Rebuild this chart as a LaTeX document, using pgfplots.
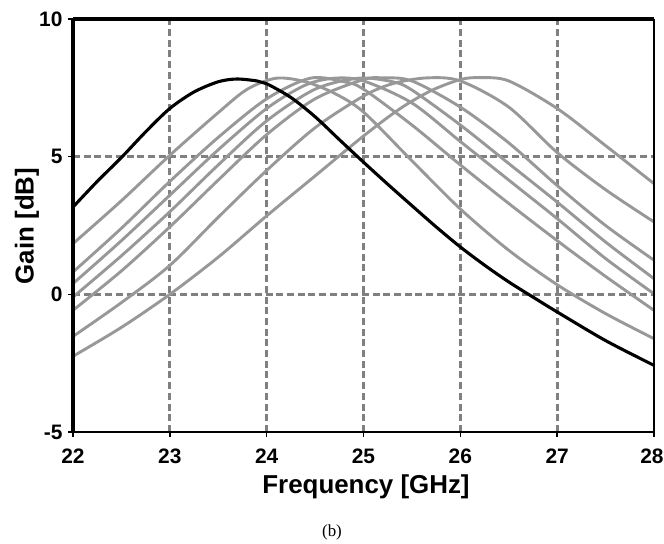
\documentclass[border=0pt]{standalone}
\usepackage{pgfplots}
\pgfplotsset{compat=1.18}
\usepackage{fontspec}
\setmainfont{Liberation Sans}
\newfontfamily\capfont{Liberation Serif}
\definecolor{gridgray}{RGB}{128,128,128}
\definecolor{curvegray}{RGB}{152,152,152}
\begin{document}
\begin{tikzpicture}
\path[use as bounding box] (0bp,0bp) rectangle (664bp,544bp);
\begin{axis}[
  at={(73bp,112bp)}, anchor=south west,
  width=581bp, height=413bp, scale only axis,
  xmin=22, xmax=28, ymin=-5, ymax=10,
  xtick={22,23,24,25,26,27,28}, ytick={-5,0,5,10},
  xticklabels={22,23,24,25,26,27,{\hspace*{-4bp}28}},
  yticklabels={-5,0,5,10},
  xtick pos=bottom, ytick pos=left,
  tick align=outside, major tick length=5bp,
  tick style={black, line width=1.6bp},
  tick label style={font=\fontsize{21}{23}\selectfont\bfseries},
  xticklabel style={yshift=-8bp},
  yticklabel style={xshift=-2bp},
  axis line style={draw=none},
  clip=false,
]
% grid
\draw[gridgray, line width=3.1bp, dash pattern=on 7bp off 3.7bp]
  (axis cs:23,-5) -- (axis cs:23,10)
  (axis cs:24,-5) -- (axis cs:24,10)
  (axis cs:25,-5) -- (axis cs:25,10)
  (axis cs:26,-5) -- (axis cs:26,10)
  (axis cs:27,-5) -- (axis cs:27,10)
  (axis cs:22,0) -- (axis cs:28,0)
  (axis cs:22,5) -- (axis cs:28,5);
% gray curves
\addplot[curvegray, line width=2.9bp, smooth] coordinates {
(22,1.84) (22.5,3.4) (23,5.05) (23.5,6.6) (23.8,7.45) (24.1,7.85) (24.4,7.72) (24.7,7.3) (25,6.62) (25.5,4.85) (26,3.1) (26.5,1.6) (27,0.35) (27.5,-0.7) (28,-1.61)};
\addplot[curvegray, line width=2.9bp, smooth] coordinates {
(22,0.81) (22.5,2.4) (23,4.1) (23.5,5.7) (24,7.1) (24.45,7.85) (24.8,7.72) (25,7.45) (25.5,6.15) (26,4.7) (26.5,3.3) (27,1.95) (27.5,0.65) (28,-0.58)};
\addplot[curvegray, line width=2.9bp, smooth] coordinates {
(22,0.39) (22.5,1.95) (23,3.6) (23.5,5.25) (24,6.75) (24.4,7.6) (24.7,7.85) (25,7.75) (25.5,6.95) (26,5.55) (26.5,4.15) (27,2.75) (27.5,1.3) (28,0.02)};
\addplot[curvegray, line width=2.9bp, smooth] coordinates {
(22,-0.1) (22.5,1.4) (23,3.0) (23.5,4.7) (24,6.3) (24.5,7.45) (24.95,7.85) (25.3,7.72) (25.5,7.42) (26,6.15) (26.5,4.75) (27,3.35) (27.5,1.9) (28,0.57)};
\addplot[curvegray, line width=2.9bp, smooth] coordinates {
(22,-0.58) (22.5,0.85) (23,2.45) (23.5,4.15) (24,5.8) (24.5,7.1) (25,7.8) (25.2,7.86) (25.5,7.75) (26,6.8) (26.5,5.5) (27,3.95) (27.5,2.5) (28,1.24)};
\addplot[curvegray, line width=2.9bp, smooth] coordinates {
(22,-1.53) (22.5,-0.3) (23,1.05) (23.5,2.8) (24,4.5) (24.5,6.05) (25,7.2) (25.3,7.65) (25.65,7.86) (26,7.75) (26.5,6.8) (27,5.15) (27.5,3.8) (28,2.63)};
\addplot[curvegray, line width=2.9bp, smooth] coordinates {
(22,-2.25) (22.5,-1.2) (23,0.0) (23.5,1.35) (24,2.85) (24.5,4.3) (25,5.75) (25.38,6.75) (25.7,7.4) (26,7.8) (26.2,7.87) (26.5,7.75) (27,6.75) (27.5,5.4) (28,4.02)};
% black curve
\addplot[black, line width=3.1bp, smooth] coordinates {
(22,3.17) (22.25,4.1) (22.5,4.97) (22.75,5.9) (23,6.75) (23.25,7.35) (23.5,7.72) (23.69,7.82) (23.9,7.75) (24,7.65) (24.25,7.15) (24.5,6.45) (24.75,5.62) (25,4.8) (25.25,4.0) (25.5,3.22) (25.75,2.45) (26,1.72) (26.25,1.06) (26.5,0.45) (26.75,-0.1) (27,-0.64) (27.5,-1.68) (28,-2.58)};
% frame
\draw[black, line width=3.2bp] (rel axis cs:0,0) -- (rel axis cs:0,1);
\draw[black, line width=4bp] (rel axis cs:0,1) -- (rel axis cs:1,1);
\draw[black, line width=2bp] (rel axis cs:1,1) -- (rel axis cs:1,0);
\draw[black, line width=2.2bp] (rel axis cs:-0.005,0) -- (rel axis cs:1,0);
\end{axis}
\node[rotate=90, font=\fontsize{26}{28}\selectfont\bfseries] at (27bp,318bp) {Gain [dB]};
\node[font=\fontsize{26}{28}\selectfont\bfseries] at (366bp,57bp) {Frequency [GHz]};
\node[font=\fontsize{17}{19}\selectfont\capfont] at (332bp,12bp) {(b)};
\end{tikzpicture}
\end{document}
